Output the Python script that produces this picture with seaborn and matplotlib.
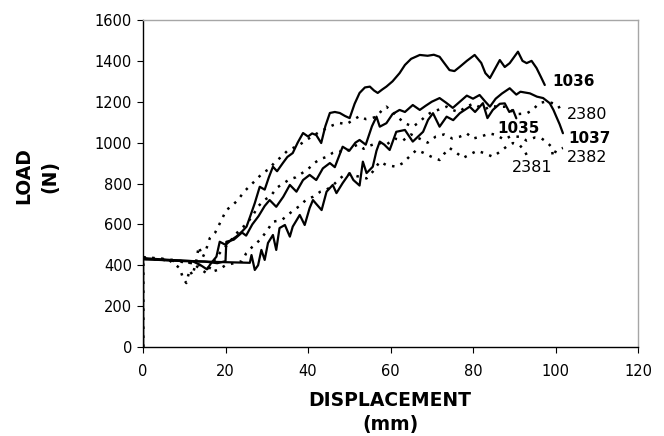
import matplotlib
matplotlib.use("Agg")
import matplotlib.pyplot as plt
import seaborn as sns
import pandas as pd

# ---------------- data ----------------
x_1036 = [0, 0, 3, 6, 9, 12, 14, 15.5, 16.5, 17.8, 18.6, 20, 21.5, 22.6, 24, 25.1, 26, 27.1, 28.3, 29.5,
          30.5, 31.5, 32.5, 33.9, 35, 36.3, 37.5, 38.8, 40, 41, 42, 43.2, 44.2, 45.3, 46.5, 47.7, 49, 50.1,
          51.3, 52.5, 53.8, 55, 56, 56.9, 58, 59, 60.5, 62.2, 63.5, 65, 67.1, 69, 70.5, 71.9, 73, 74.3, 75.5,
          76.8, 78.5, 80.4, 82, 83, 84.1, 85.3, 86.5, 87.7, 88.9, 90.9, 92, 93, 94.2, 95.4, 96.5, 97.4]
y_1036 = [0, 430, 428, 425, 423, 420, 400, 380, 410, 442, 515, 500, 525, 540, 565, 589, 640, 704, 784, 770,
          830, 882, 860, 900, 930, 949, 1000, 1047, 1030, 1045, 1037, 998, 1080, 1145, 1150, 1145, 1130, 1120,
          1190, 1243, 1270, 1274, 1255, 1243, 1260, 1274, 1300, 1340, 1380, 1410, 1429, 1425, 1430, 1420, 1390,
          1355, 1350, 1371, 1400, 1429, 1390, 1340, 1316, 1360, 1404, 1370, 1389, 1445, 1400, 1389, 1400, 1365,
          1320, 1282]

x_1037 = [0, 0, 5, 10, 15, 18, 20, 20.2, 22, 24, 25, 26.5, 28, 29.5, 30.7, 32.3, 34, 35.6, 37.2, 38.8, 40.4,
          42, 43.6, 45.3, 46.5, 48.4, 50, 51.5, 52.5, 54, 55.5, 56.6, 57.4, 59, 60.5, 62.2, 63.5, 65.4, 67.1,
          68.5, 70, 71.9, 73.5, 75.1, 76.8, 78.5, 80, 81.6, 83, 84.1, 85.5, 87, 88.9, 90.5, 91.5, 93.8, 95.5,
          97, 98.6, 99.5, 100.2, 101, 101.8]
y_1037 = [0, 435, 428, 422, 418, 410, 420, 515, 525, 560, 545, 600, 640, 690, 719, 686, 735, 793, 760, 817, 842,
          817, 874, 900, 880, 980, 960, 1000, 1013, 990, 1080, 1127, 1078, 1095, 1140, 1160, 1150, 1184, 1160,
          1180, 1200, 1218, 1195, 1170, 1200, 1230, 1215, 1233, 1200, 1176, 1215, 1240, 1266, 1235, 1249, 1241,
          1225, 1218, 1193, 1160, 1127, 1090, 1046]

x_1035 = [0, 0, 5, 10, 15, 20, 25.9, 26.3, 27.1, 27.9, 28.7, 29.5, 30.3, 31.5, 32.3, 33.1, 34.4, 35.6, 36.3,
          38, 39.2, 40.4, 41.2, 42, 43.3, 44.5, 46, 46.9, 48.4, 50.1, 51, 52.5, 53.3, 54.2, 55.7, 56.6, 57.4,
          58.5, 59.8, 61.4, 63.5, 65.4, 67.9, 69.1, 70.3, 71.9, 73.6, 75.2, 76.8, 79.2, 80.5, 82.4, 83.5, 84.8,
          86.5, 87.7, 88.8, 89.7, 90.5]
y_1035 = [0, 430, 425, 420, 418, 415, 412, 450, 377, 400, 475, 426, 509, 548, 475, 582, 597, 540, 589,
          646, 597, 680, 719, 700, 670, 760, 793, 753, 802, 851, 817, 790, 907, 851, 882, 960, 1005,
          990, 964, 1053, 1062, 1005, 1053, 1111, 1144, 1078, 1127, 1110, 1144, 1176, 1150, 1193, 1120, 1160,
          1190, 1192, 1150, 1160, 1119]

x_2380 = [0, 0, 3, 6, 8, 8.9, 9.7, 10.5, 11.3, 12, 12.9, 13.5, 14.5, 15.2, 16.2, 17.5, 18.5, 20.2, 21.5, 23,
          24.5, 26, 27.5, 29, 30.5, 32, 33.5, 35, 36.5, 38, 39.6, 41, 42.8, 44.5, 46, 47.7, 49.3, 50.9, 52.5,
          54, 55.5, 56.6, 58, 59, 60.5, 62, 63.5, 65.4, 67, 68.5, 70, 71.5, 73.6, 75, 76.5, 78.4, 80, 81.5, 83,
          84.5, 86, 88.1, 89.7, 91, 93, 94.5, 96, 97.5, 99, 100.6, 101.4]
y_2380 = [0, 440, 435, 430, 400, 386, 337, 313, 377, 350, 420, 491, 440, 470, 533, 560, 600, 670, 690, 719,
          760, 790, 820, 851, 870, 905, 930, 960, 975, 990, 1013, 1030, 1053, 1070, 1085, 1096, 1090, 1110,
          1130, 1115, 1120, 1127, 1160, 1176, 1150, 1120, 1095, 1078, 1100, 1130, 1150, 1160, 1176, 1160, 1150,
          1176, 1190, 1175, 1165, 1180, 1175, 1176, 1150, 1140, 1143, 1160, 1193, 1200, 1195, 1184, 1151]

x_2381 = [0, 0, 4, 8, 12, 15, 17, 18.5, 20, 22, 24, 25, 26.5, 28.3, 29.9, 31.5, 33.6, 34.8, 36.5, 38, 39.5,
          41.2, 43, 44.5, 46, 47.5, 49.3, 50.5, 52.5, 54.2, 55.7, 57.4, 59, 61.4, 63, 64.5, 66.3, 68, 70, 71.9,
          73, 74.3, 76, 77.6, 79, 81, 82.5, 84.8, 86.5, 88.1, 89.7, 91.3, 92.5, 93]
y_2381 = [0, 432, 428, 420, 410, 395, 370, 380, 400, 410, 420, 458, 490, 523, 564, 613, 621, 640, 670, 690,
          720, 735, 760, 770, 790, 820, 851, 842, 833, 825, 858, 907, 890, 882, 900, 930, 964, 950, 930, 915,
          945, 974, 950, 925, 940, 960, 950, 931, 955, 980, 998, 988, 960, 940]

x_2382 = [0, 0, 4, 8, 12, 14, 15.5, 16.5, 17.5, 19, 20.5, 22, 23.5, 25, 26.5, 28, 29.5, 31, 32.5, 34, 35.5,
          37, 38.5, 40, 41.5, 43, 44.5, 46, 47.5, 49, 50.5, 52, 53.5, 55, 57, 59, 61, 63, 65, 67, 69, 71, 73,
          75, 76.8, 78.5, 80, 82, 84, 85.7, 87.5, 89, 91.3, 93, 95, 96.6, 98, 99, 99.4, 100.2, 101.8]
y_2382 = [0, 438, 430, 425, 410, 380, 360, 400, 430, 470, 500, 540, 575, 600, 640, 690, 720, 740, 780, 800,
          820, 830, 850, 870, 900, 920, 930, 950, 960, 950, 975, 990, 970, 985, 1000, 990, 1020, 1010, 1040,
          1020, 1000, 1030, 1040, 1020, 1029, 1045, 1020, 1030, 1045, 1037, 1015, 1030, 1029, 1010, 1025,
          1021, 1000, 980, 931, 964, 974]

specimens = ["1036", "1037", "1035", "2380", "2381", "2382"]
xs = [x_1036, x_1037, x_1035, x_2380, x_2381, x_2382]
ys = [y_1036, y_1037, y_1035, y_2380, y_2381, y_2382]
solid = [True, True, True, False, False, False]

label_text = ["1036", "2380", "1037", "2382", "2381", "1035"]
label_x = [99.3, 102.7, 103.2, 102.7, 89.4, 86.0]
label_y = [1301, 1140, 1022, 925, 876, 1067]
label_bold = [True, False, True, False, False, True]

x_ticks = [0, 20, 40, 60, 80, 100, 120]
y_ticks = [0, 200, 400, 600, 800, 1000, 1200, 1400, 1600]

# ---------------- plot ----------------
sns.set_style("ticks")
plt.rcParams["font.family"] = ["DejaVu Sans"]
plt.rcParams["text.color"] = "black"
plt.rcParams["xtick.color"] = "black"
plt.rcParams["ytick.color"] = "black"
plt.rcParams["xtick.labelcolor"] = "black"
plt.rcParams["ytick.labelcolor"] = "black"

fig = plt.figure(figsize=(6.64, 4.36), dpi=100)
ax = fig.add_axes([143 / 664, 1 - 347 / 436, (638 - 143) / 664, (347 - 20) / 436])

for name, xv, yv, s in zip(specimens, xs, ys, solid):
    df = pd.DataFrame({"x": xv, "y": yv})
    if s:
        sns.lineplot(data=df, x="x", y="y", sort=False, estimator=None, color="black",
                     linewidth=1.6, ax=ax)
    else:
        sns.lineplot(data=df, x="x", y="y", sort=False, estimator=None, color="black",
                     linewidth=1.8, dashes=False, ax=ax, linestyle=(0, (1.0, 2.6)))

for t, lx, ly, b in zip(label_text, label_x, label_y, label_bold):
    ax.text(lx, ly, t, fontsize=11 if b else 11.5, fontweight="bold" if b else "normal",
            ha="left", va="center", color="black")

ax.set_xlim(0, 120)
ax.set_ylim(0, 1600)
ax.set_xticks(x_ticks)
ax.set_yticks(y_ticks)
ax.tick_params(axis="both", direction="out", length=4, width=0.8, labelsize=10.5,
               color="black", labelcolor="black")
ax.tick_params(axis="x", pad=8)
ax.tick_params(axis="y", pad=4)
ax.set_xlabel("")
ax.set_ylabel("")

for side in ["left", "bottom"]:
    ax.spines[side].set_color("black")
    ax.spines[side].set_linewidth(1.0)
for side in ["top", "right"]:
    ax.spines[side].set_visible(True)
    ax.spines[side].set_color("#a6a6a6")
    ax.spines[side].set_linewidth(1.0)

fig.text(390 / 664, 1 - 400 / 436, "DISPLACEMENT", ha="center", va="center",
         fontsize=13.5, fontweight="bold", color="black")
fig.text(390 / 664, 1 - 424 / 436, "(mm)", ha="center", va="center",
         fontsize=13.5, fontweight="bold", color="black")
fig.text(24 / 664, 1 - 176 / 436, "LOAD", ha="center", va="center", rotation=90,
         fontsize=13.5, fontweight="bold", color="black")
fig.text(50 / 664, 1 - 176 / 436, "(N)", ha="center", va="center", rotation=90,
         fontsize=13.5, fontweight="bold", color="black")

fig.savefig("out.png", dpi=100)
